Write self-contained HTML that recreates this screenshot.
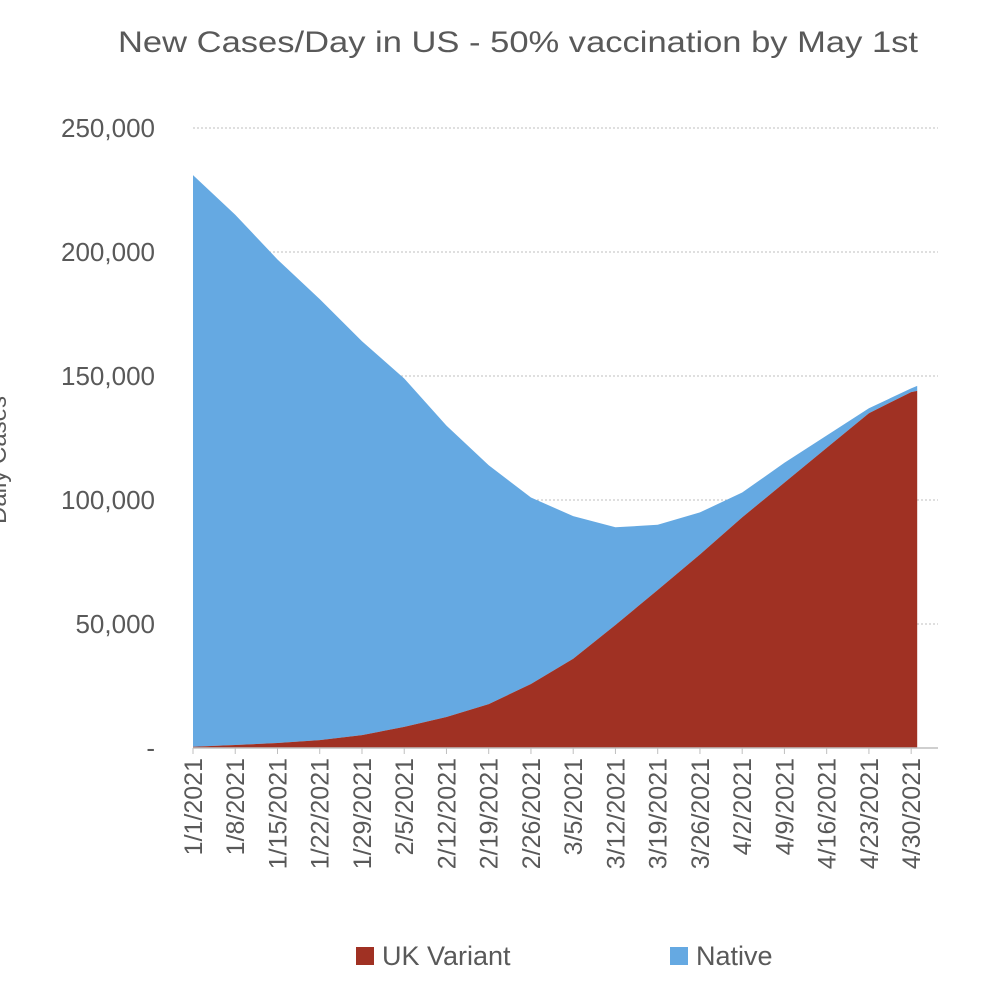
<!DOCTYPE html>
<html><head><meta charset="utf-8"><style>
body{margin:0;background:#fff;}
svg{font-family:"Liberation Sans",sans-serif;}
</style></head><body>
<svg width="1000" height="1000" viewBox="0 0 1000 1000">
<rect x="0" y="0" width="1000" height="1000" fill="#fff"/>
<text x="118" y="52" font-size="30" textLength="800" lengthAdjust="spacingAndGlyphs" fill="#595959">New Cases/Day in US - 50% vaccination by May 1st</text>
<text transform="translate(6,460) rotate(-90)" text-anchor="middle" font-size="24" fill="#595959">Daily Cases</text>
<g id="grid"></g>
<g id="areas"></g>
<g id="axes"></g>
<g>
<rect x="356" y="947" width="18" height="18" fill="#a03123"/>
<text x="382" y="965" font-size="27" fill="#595959">UK Variant</text>
<rect x="670" y="947" width="18" height="18" fill="#65a9e2"/>
<text x="696" y="965" font-size="27" fill="#595959">Native</text>
</g>
</svg>
<script>
const dayIndex=[0,7,14,21,28,35,42,49,56,63,70,77,84,91,98,105,112,119,120];
const ukVariant=[500,1200,2000,3200,5200,8500,12500,17700,25800,36000,49600,63700,78000,93000,107000,121000,135000,143500,144000];
const native=[230500,213800,195000,177800,158800,140500,117500,96300,75200,57500,39400,26300,17000,10000,8000,5000,2000,1500,2000];
const xLabels=["1/1/2021","1/8/2021","1/15/2021","1/22/2021","1/29/2021","2/5/2021","2/12/2021","2/19/2021","2/26/2021","3/5/2021","3/12/2021","3/19/2021","3/26/2021","4/2/2021","4/9/2021","4/16/2021","4/23/2021","4/30/2021"];
const yTicks=[0,50000,100000,150000,200000,250000];
const yTickLabels=["-","50,000","100,000","150,000","200,000","250,000"];
const NS="http://www.w3.org/2000/svg";
const x=d=>193+d*6.035, y=v=>748-v*620/250000;
function mk(t,a,p){const e=document.createElementNS(NS,t);for(const k in a)e.setAttribute(k,a[k]);p.appendChild(e);return e;}
const grid=document.getElementById('grid'),areas=document.getElementById('areas'),axes=document.getElementById('axes');
yTicks.forEach((v,i)=>{
 if(v>0){const l=mk('line',{x1:193,x2:938,y1:y(v),y2:y(v),stroke:'#bfbfbf','stroke-width':1,'stroke-dasharray':'2,2'},grid);
 
 }
 const t=mk('text',{x:155,y:y(v)+9,'text-anchor':'end','font-size':26,fill:'#595959'},axes);
 t.textContent=yTickLabels[i];
 
 
});
const topPts=dayIndex.map((d,i)=>[x(d),y(ukVariant[i]+native[i])]);
const midPts=dayIndex.map((d,i)=>[x(d),y(ukVariant[i])]);
const nat=mk('path',{d:'M'+topPts.map(p=>p.join(',')).join('L')+'L'+midPts.slice().reverse().map(p=>p.join(',')).join('L')+'Z',fill:'#65a9e2'},areas);


const uk=mk('path',{d:'M'+x(dayIndex[0])+','+y(0)+'L'+midPts.map(p=>p.join(',')).join('L')+'L'+x(dayIndex[dayIndex.length-1])+','+y(0)+'Z',fill:'#a03123'},areas);


const ax=mk('line',{x1:193,x2:938,y1:748,y2:748,stroke:'#bfbfbf','stroke-width':1.5},axes);


xLabels.forEach((s,i)=>{
 const px=x(i*7);
 const tk=mk('line',{x1:px,x2:px,y1:748,y2:754,stroke:'#bfbfbf'},axes);
 
 
 const t=mk('text',{transform:`translate(${px+9},758) rotate(-90)`,'text-anchor':'end','font-size':25,fill:'#595959'},axes);
 t.textContent=s;
 
 
});
</script>
</body></html>
